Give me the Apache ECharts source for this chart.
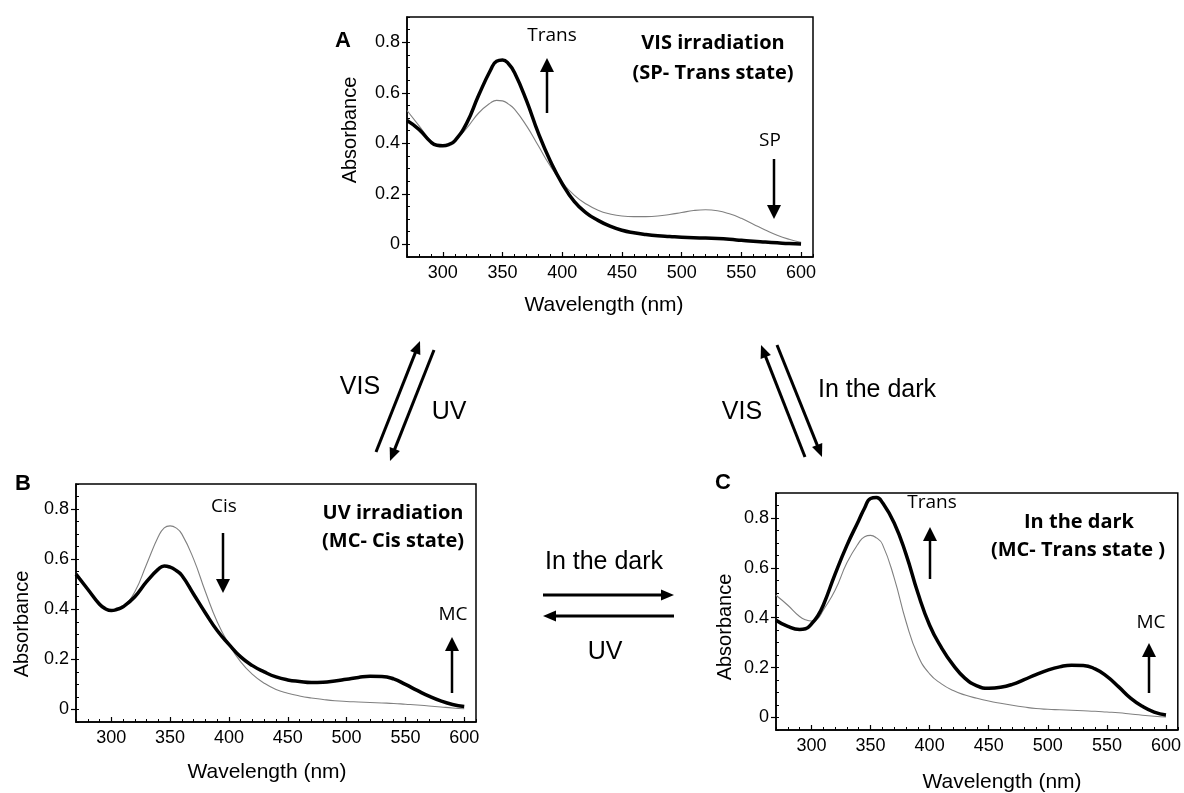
<!DOCTYPE html>
<html>
<head>
<meta charset="utf-8">
<script src="https://cdn.jsdelivr.net/npm/echarts@6.0.0/dist/echarts.min.js"></script>
<style>
  html, body { margin: 0; padding: 0; background: #fff; }
  #main { width: 1184px; height: 793px; }
</style>
</head>
<body>
<div id="main"></div>
<script>
// wavelength samples (nm), denser around the minima and the 350 nm band
const wavelengths = [270, 280, 290, 295, 300, 305, 310, 320, 330, 340, 345, 350, 355, 360, 370, 380, 390, 400, 410, 420,
  430, 440, 450, 460, 470, 480, 490, 500, 510, 520, 530, 540, 550, 560, 570, 580, 590, 600]

// A: VIS irradiation (thick = after, thin = before)
const aTrans = [0.49, 0.455, 0.405, 0.392, 0.39, 0.395, 0.41, 0.48, 0.59, 0.69, 0.725, 0.73, 0.715, 0.68, 0.57, 0.44, 0.33, 0.24, 0.17, 0.125,
  0.095, 0.072, 0.056, 0.046, 0.039, 0.034, 0.031, 0.028, 0.026, 0.025, 0.023, 0.02, 0.016, 0.012, 0.009, 0.006, 0.003, 0.001]
const aSp = [0.53, 0.47, 0.41, 0.393, 0.39, 0.395, 0.41, 0.46, 0.52, 0.56, 0.57, 0.568, 0.555, 0.535, 0.47, 0.39, 0.31, 0.245, 0.195, 0.16,
  0.135, 0.12, 0.112, 0.11, 0.11, 0.112, 0.118, 0.126, 0.134, 0.137, 0.133, 0.121, 0.103, 0.08, 0.057, 0.036, 0.02, 0.008]

// B: UV irradiation
const bCis = [0.54, 0.48, 0.42, 0.402, 0.395, 0.4, 0.41, 0.45, 0.51, 0.56, 0.573, 0.568, 0.555, 0.535, 0.46, 0.385, 0.315, 0.26, 0.21, 0.175,
  0.15, 0.13, 0.118, 0.112, 0.108, 0.109, 0.114, 0.121, 0.128, 0.133, 0.132, 0.122, 0.1, 0.076, 0.053, 0.034, 0.02, 0.012]
const bBefore = [0.54, 0.48, 0.42, 0.402, 0.395, 0.4, 0.41, 0.47, 0.58, 0.69, 0.725, 0.733, 0.725, 0.70, 0.60, 0.47, 0.35, 0.26, 0.19, 0.14,
  0.105, 0.08, 0.065, 0.054, 0.046, 0.04, 0.035, 0.032, 0.03, 0.028, 0.026, 0.024, 0.021, 0.018, 0.014, 0.01, 0.006, 0.003]

// C: in the dark
const cTrans = [0.39, 0.365, 0.353, 0.356, 0.375, 0.405, 0.45, 0.575, 0.69, 0.79, 0.84, 0.878, 0.882, 0.862, 0.78, 0.655, 0.50, 0.37, 0.28, 0.21,
  0.157, 0.127, 0.117, 0.121, 0.133, 0.152, 0.172, 0.19, 0.203, 0.21, 0.209, 0.195, 0.165, 0.123, 0.078, 0.045, 0.022, 0.01]
const cBefore = [0.49, 0.45, 0.405, 0.392, 0.387, 0.395, 0.43, 0.51, 0.62, 0.70, 0.725, 0.73, 0.72, 0.695, 0.56, 0.385, 0.25, 0.175, 0.135, 0.108,
  0.09, 0.077, 0.066, 0.057, 0.049, 0.042, 0.036, 0.033, 0.031, 0.029, 0.027, 0.025, 0.022, 0.019, 0.014, 0.009, 0.005, 0.002]

const xTicks = [300, 350, 400, 450, 500, 550, 600]
const yTicks = [0, 0.2, 0.4, 0.6, 0.8]

const SANS = '"Liberation Sans", Arial, sans-serif'
const NOTE = '"Open Sans", sans-serif'

const panels = [
  { grid: { left: 407, top: 17, width: 406, height: 240 }, thin: aSp, thick: aTrans },
  { grid: { left: 76, top: 484, width: 400, height: 238 }, thin: bBefore, thick: bCis },
  { grid: { left: 776, top: 493, width: 404, height: 237 }, thin: cBefore, thick: cTrans },
]

const grid = []
const xAxis = []
const yAxis = []
const series = []

panels.forEach((p, i) => {
  grid.push({ ...p.grid, show: true, borderColor: '#000', borderWidth: 1.5, backgroundColor: 'transparent' })
  // major x axis with labels
  xAxis.push({
    gridIndex: i, type: 'value', position: 'bottom', min: 270, max: 610,
    axisLine: { onZero: false, lineStyle: { color: '#000', width: 1.5 } },
    axisTick: { inside: true, length: 5, customValues: xTicks, lineStyle: { color: '#000', width: 1.2 } },
    axisLabel: { customValues: xTicks, color: '#000', fontSize: 18, fontFamily: SANS, margin: 7 },
    splitLine: { show: false },
  })
  // minor x ticks
  xAxis.push({
    gridIndex: i, type: 'value', position: 'bottom', min: 270, max: 610, interval: 10,
    axisLine: { show: false, onZero: false },
    axisTick: { inside: true, length: 3, lineStyle: { color: '#000', width: 1 } },
    axisLabel: { show: false },
    splitLine: { show: false },
  })
  yAxis.push({
    gridIndex: i, type: 'value', position: 'left', min: -0.05, max: 0.9,
    axisLine: { show: true, onZero: false, lineStyle: { color: '#000', width: 1.5 } },
    axisTick: { show: true, inside: false, length: 5, customValues: yTicks, lineStyle: { color: '#000', width: 1.2 } },
    axisLabel: {
      customValues: yTicks, color: '#000', fontSize: 18, fontFamily: SANS, margin: 7,
      formatter: v => (v === 0 ? '0' : v.toFixed(1)),
    },
    splitLine: { show: false },
  })
  yAxis.push({
    gridIndex: i, type: 'value', position: 'left', min: -0.05, max: 0.9, interval: 0.05,
    axisLine: { show: false, onZero: false },
    axisTick: { show: true, inside: true, length: 3, lineStyle: { color: '#000', width: 1 } },
    axisLabel: { show: false },
    splitLine: { show: false },
  })
  series.push({
    type: 'line', xAxisIndex: 2 * i, yAxisIndex: 2 * i, smooth: true, showSymbol: false, silent: true,
    data: wavelengths.map((w, k) => [w, p.thin[k]]),
    lineStyle: { color: '#808080', width: 1.1 }, z: 2,
  })
  series.push({
    type: 'line', xAxisIndex: 2 * i, yAxisIndex: 2 * i, smooth: true, showSymbol: false, silent: true,
    data: wavelengths.map((w, k) => [w, p.thick[k]]),
    lineStyle: { color: '#000', width: 3.5 }, z: 3,
  })
})

function txt(x, y, text, size, family, weight, rot) {
  return {
    type: 'text', x, y, rotation: rot || 0, z: 10,
    style: { text, fontSize: size, fontFamily: family, fontWeight: weight || 'normal', fill: '#000', align: 'center', verticalAlign: 'middle' },
  }
}

function arrow(x1, y1, x2, y2, w, hl, hw) {
  const dx = x2 - x1
  const dy = y2 - y1
  const L = Math.hypot(dx, dy)
  const ux = dx / L
  const uy = dy / L
  const bx = x2 - ux * hl
  const by = y2 - uy * hl
  const px = -uy
  const py = ux
  return [
    { type: 'line', z: 10, shape: { x1, y1, x2: bx + ux * 1, y2: by + uy * 1 }, style: { stroke: '#000', lineWidth: w } },
    { type: 'polygon', z: 10, shape: { points: [[x2, y2], [bx + px * hw / 2, by + py * hw / 2], [bx - px * hw / 2, by - py * hw / 2]] }, style: { fill: '#000' } },
  ]
}

const graphic = [
  // panel A
  txt(343, 41, 'A', 22, SANS, 'bold'),
  txt(350, 130, 'Absorbance', 20, SANS, 'normal', Math.PI / 2),
  txt(604, 305, 'Wavelength (nm)', 21, SANS),
  txt(552, 36, 'Trans', 19, NOTE),
  txt(713, 43, 'VIS irradiation', 20, NOTE, 'bold'),
  txt(713, 73, '(SP- Trans state)', 20, NOTE, 'bold'),
  txt(770, 141, 'SP', 19, NOTE),
  ...arrow(547, 113, 547, 58, 2.5, 14, 14),
  ...arrow(774, 159, 774, 219, 2.5, 14, 14),
  // panel B
  txt(23, 484, 'B', 22, SANS, 'bold'),
  txt(22, 624, 'Absorbance', 20, SANS, 'normal', Math.PI / 2),
  txt(267, 772, 'Wavelength (nm)', 21, SANS),
  txt(224, 507, 'Cis', 19, NOTE),
  txt(393, 513, 'UV irradiation', 20, NOTE, 'bold'),
  txt(393, 541, '(MC- Cis state)', 20, NOTE, 'bold'),
  txt(453, 615, 'MC', 19, NOTE),
  ...arrow(223, 533, 223, 593, 2.5, 14, 14),
  ...arrow(452, 693, 452, 637, 2.5, 14, 14),
  // panel C
  txt(723, 483, 'C', 22, SANS, 'bold'),
  txt(725, 627, 'Absorbance', 20, SANS, 'normal', Math.PI / 2),
  txt(1002, 782, 'Wavelength (nm)', 21, SANS),
  txt(932, 503, 'Trans', 19, NOTE),
  txt(1079, 522, 'In the dark', 20, NOTE, 'bold'),
  txt(1078, 550, '(MC- Trans state )', 20, NOTE, 'bold'),
  txt(1151, 623, 'MC', 19, NOTE),
  ...arrow(930, 579, 930, 527, 2.5, 14, 14),
  ...arrow(1149, 693, 1149, 643, 2.5, 14, 14),
  // transitions between panels
  ...arrow(376, 452, 420, 341, 3, 13, 11),
  ...arrow(434, 350, 390, 461, 3, 13, 11),
  txt(360, 387, 'VIS', 25, SANS),
  txt(449, 412, 'UV', 25, SANS),
  ...arrow(805, 457, 761, 345, 3, 13, 11),
  ...arrow(777, 345, 822, 457, 3, 13, 11),
  txt(742, 412, 'VIS', 25, SANS),
  txt(877, 390, 'In the dark', 25, SANS),
  ...arrow(543, 595, 674, 595, 3, 13, 11),
  ...arrow(674, 616, 543, 616, 3, 13, 11),
  txt(604, 562, 'In the dark', 25, SANS),
  txt(605, 652, 'UV', 25, SANS),
]

const chart = echarts.init(document.getElementById('main'), null, { renderer: 'canvas' })
chart.setOption({
  animation: false,
  backgroundColor: '#fff',
  grid,
  xAxis,
  yAxis,
  series,
  graphic,
})
</script>
</body>
</html>
